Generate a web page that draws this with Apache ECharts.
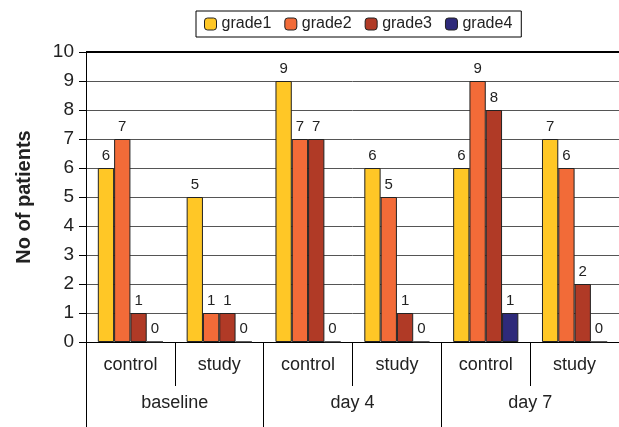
<!DOCTYPE html>
<html><head><meta charset="utf-8">
<script src="https://cdn.jsdelivr.net/npm/echarts@6/dist/echarts.min.js"></script>
<style>html,body{margin:0;padding:0;background:#fff}#c{width:619px;height:427px}</style>
</head><body><div id="c"></div>
<script>
const subCategories = ['control','study','control','study','control','study'];
const groups = ['baseline','day 4','day 7'];
const seriesNames = ['grade1','grade2','grade3','grade4'];
const grade1 = [6,5,9,6,6,7];
const grade2 = [7,1,7,5,9,6];
const grade3 = [1,1,7,1,8,2];
const grade4 = [0,0,0,0,1,0];
const yTicks = [0,1,2,3,4,5,6,7,8,9,10];

const colors = ['#FFC726','#F26B38','#B03A26','#2E2A7A'];
const values = [grade1, grade2, grade3, grade4];
const font = 'Liberation Sans, Arial, sans-serif';

const chart = echarts.init(document.getElementById('c'));
const series = seriesNames.map((n,i)=>({
  name:n,type:'bar',xAxisIndex:0,data:values[i],
  barWidth:16.3,barGap:'0%',
  itemStyle:{color:colors[i],borderColor:'#222',borderWidth:1},
  label:{show:true,position:'top',fontSize:15,color:'#222',distance:5,fontFamily:font}
}));
series[0].markLine = {silent:true,symbol:'none',label:{show:false},
  lineStyle:{color:'#000',width:2,type:'solid'},data:[{yAxis:10}]};
chart.setOption({
  animation:false,
  textStyle:{fontFamily:font},
  color:colors,
  legend:{
    data:seriesNames, top:11, left:196, itemWidth:12, itemHeight:12, itemGap:13,
    borderColor:'#000', borderWidth:1, padding:[5,9,5,8],
    textStyle:{fontSize:16,color:'#222',fontFamily:font},
    itemStyle:{borderColor:'#222',borderWidth:1}
  },
  grid:{left:86,width:543,top:52,bottom:85},
  xAxis:[
    {type:'category',data:subCategories,position:'bottom',
     axisLine:{lineStyle:{color:'#000',width:1}},
     axisTick:{show:true,interval:0,length:44,lineStyle:{color:'#000'}},
     axisLabel:{fontSize:18,color:'#222',margin:14,fontFamily:font}},
    {type:'category',data:groups,position:'bottom',
     axisLine:{show:false},
     axisTick:{show:true,interval:0,length:85,lineStyle:{color:'#000'}},
     axisLabel:{fontSize:18,color:'#222',margin:52,fontFamily:font}}
  ],
  yAxis:{type:'value',min:0,max:10,interval:1,
    name:'No of patients',nameLocation:'middle',nameGap:52,
    nameTextStyle:{fontSize:20,fontWeight:'bold',color:'#222',fontFamily:font},
    axisLine:{show:true,lineStyle:{color:'#000'}},
    axisTick:{show:true,length:7,lineStyle:{color:'#000'}},
    axisLabel:{fontSize:19,color:'#222',margin:12,fontFamily:font,
      formatter:v=>yTicks.includes(v)?String(v):''},
    splitLine:{lineStyle:{color:'#555',width:1}}
  },
  series:series
});
</script></body></html>
